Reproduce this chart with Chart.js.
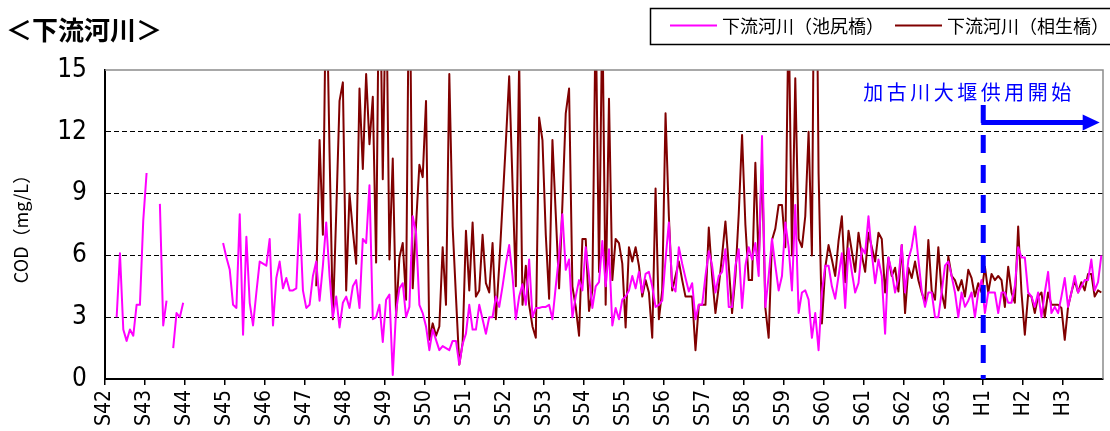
<!DOCTYPE html>
<html>
<head>
<meta charset="utf-8">
<script src="https://cdn.jsdelivr.net/npm/chart.js@4.4.0/dist/chart.umd.min.js"></script>
<style>
  html, body { margin: 0; padding: 0; background: #fff; }
  #wrap { position: relative; width: 1110px; height: 431px; }
</style>
</head>
<body>
<div id="wrap"><canvas id="cod-chart"></canvas></div>
<script>
// one tick label per year, 12 monthly points per year
var yearLabels = ['S42', 'S43', 'S44', 'S45', 'S46', 'S47', 'S48', 'S49', 'S50', 'S51',
  'S52', 'S53', 'S54', 'S55', 'S56', 'S57', 'S58', 'S59', 'S60', 'S61', 'S62', 'S63',
  'H1', 'H2', 'H3'];

// monthly COD (mg/L), null = no measurement
var ikejiri = [
  null, null, null, 3.0, 6.1, 2.4, 1.85, 2.4, 2.1, 3.6, 3.6, 7.7,        // S42
  10.0, null, null, null, 8.5, 2.6, 3.8, null, 1.5, 3.2, 3.0, 3.7,       // S43
  null, null, null, null, null, null, null, null, null, null, null, 6.6, // S44
  5.9, 5.3, 3.6, 3.45, 8.0, 2.15, 6.9, 3.7, 2.6, 4.2, 5.7, 5.6,         // S45
  5.5, 6.8, 2.6, 4.9, 5.7, 4.4, 4.9, 4.3, 4.3, 4.4, 8.0, 4.3,           // S46
  3.45, 3.6, 5.0, 5.7, 3.8, 5.5, 7.6, 5.0, 3.0, 4.0, 2.5, 3.7,          // S47
  4.0, 3.45, 4.5, 4.8, 3.45, 6.8, 6.6, 9.4, 2.9, 3.0, 3.6, 1.8,         // S48
  3.85, 4.1, 0.2, 3.3, 4.4, 4.65, 3.0, 3.5, 7.9, 7.1, 3.6, 3.2,         // S49
  2.55, 1.4, 2.4, 1.9, 1.4, 1.6, 1.5, 1.4, 1.85, 1.85, 0.7, 1.7,        // S50
  2.2, 3.6, 2.4, 2.4, 3.6, 2.9, 2.2, 3.0, 3.0, 4.0, 3.5, 4.5,           // S51
  5.6, 6.5, 5.0, 2.9, 4.0, 4.6, 3.6, 5.8, 3.0, 3.45, 3.45, 3.5,         // S52
  3.5, 3.6, 2.9, 4.5, 6.0, 8.0, 5.3, 5.8, 3.0, 4.0, 4.8, 4.3,           // S53
  6.4, 5.0, 3.45, 4.5, 4.7, 6.7, 4.5, 6.3, 2.6, 3.45, 2.9, 3.85,        // S54
  4.0, 4.3, 5.0, 4.4, 5.2, 4.2, 5.1, 5.2, 4.5, 3.5, 3.6, 3.8,           // S55
  5.8, 7.6, 4.5, 4.25, 6.4, 5.6, 4.9, 4.25, 4.65, 2.9, 3.6, 3.6,        // S56
  5.0, 6.2, 5.5, 4.2, 5.0, 5.2, 6.3, 3.5, 3.5, 5.5, 6.3, 3.45,          // S57
  5.5, 6.4, 5.8, 6.6, 5.0, 11.8, 3.5, 5.0, 6.8, 5.5, 4.3, 5.0,          // S58
  7.6, 6.4, 4.3, 8.45, 3.2, 4.2, 4.3, 3.85, 2.0, 3.2, 1.4, 4.2,         // S59
  5.5, 5.5, 4.5, 3.9, 5.0, 6.1, 3.45, 6.35, 5.2, 4.2, 4.65, 6.35,       // S60
  6.1, 7.9, 6.1, 4.65, 5.8, 5.0, 2.2, 5.9, 5.2, 4.2, 4.9, 6.5,          // S61
  4.2, 5.8, 6.4, 7.4, 5.8, 4.3, 3.5, 4.2, 4.2, 3.0, 3.0, 4.2,           // S62
  5.5, 5.7, 5.0, 4.2, 3.0, 4.2, 3.5, 3.8, 4.2, 3.0, 4.2, 4.8,           // S63
  3.2, 4.2, 4.2, 4.2, 3.2, 4.2, 4.2, 3.7, 3.7, 4.5, 6.4, 5.9,           // H1
  5.9, 4.2, 4.0, 3.5, 4.2, 3.0, 4.2, 5.2, 3.2, 3.5, 3.2, 4.0,           // H2
  4.9, 3.5, 4.2, 5.0, 4.2, 4.5, 4.8, 4.8, 5.8, 4.3, 4.7, 6.0            // H3
];

var aioi = [
  null, null, null, null, null, null, null, null, null, null, null, null, // S42
  null, null, null, null, null, null, null, null, null, null, null, null, // S43
  null, null, null, null, null, null, null, null, null, null, null, null, // S44
  null, null, null, null, null, null, null, null, null, null, null, null, // S45
  null, null, null, null, null, null, null, null, null, null, null, null, // S46
  null, null, null, 4.5, 11.6, 7.0, 20, 11, 2.9, 8.0, 13.5, 14.4,        // S47
  4.3, 9.0, 7.2, 5.6, 14.1, 10.2, 14.8, 11.4, 13.7, 5.65, 22, 9.7,       // S48
  20, 5.8, 10.7, 3.0, 5.9, 6.6, 3.85, 22, 4.4, 7.5, 10.4, 9.8,           // S49
  13.5, 1.9, 2.7, 2.1, 2.55, 6.4, 3.6, 14.8, 7.4, 4.0, 0.7, 1.75,        // S50
  7.2, 4.3, 7.6, 4.0, 4.3, 7.0, 4.65, 4.2, 6.6, 2.9, 5.5, 8.5,           // S51
  11.5, 14.7, 9.5, 4.5, 15.5, 3.6, 5.5, 3.6, 2.55, 2.0, 12.7, 11.6,      // S52
  7.0, 3.9, 11.6, 8.0, 4.4, 8.5, 12.9, 14.1, 4.5, 3.5, 2.1, 6.8,         // S53
  6.8, 3.3, 4.3, 18, 5.2, 18, 3.6, 13.6, 4.8, 6.8, 6.6, 5.6,             // S54
  2.5, 6.4, 5.7, 6.4, 5.5, 4.0, 4.8, 4.2, 2.0, 9.25, 2.9, 4.3,           // S55
  12.9, 7.9, 4.3, 5.0, 5.7, 4.8, 4.0, 4.0, 4.0, 1.4, 3.6, 3.6,           // S56
  3.6, 7.35, 5.0, 3.2, 4.5, 6.0, 7.65, 5.5, 3.2, 5.0, 8.0, 11.85,        // S57
  7.5, 4.8, 4.8, 10.5, 5.65, 10.5, 3.45, 2.0, 6.75, 7.3, 8.45, 8.45,     // S58
  6.4, 18, 6.0, 14.6, 6.8, 6.4, 7.9, 12.0, 6.0, 28, 10, 2.7,             // S59
  5.4, 6.5, 5.8, 5.0, 6.7, 7.9, 4.7, 7.2, 6.2, 5.2, 7.1, 6.0,            // S60
  5.2, 7.1, 6.4, 5.7, 7.1, 6.8, 4.2, 5.9, 5.0, 5.4, 4.25, 6.5,           // S61
  3.2, 5.4, 4.9, 5.7, 4.8, 4.2, 3.7, 6.75, 4.3, 3.85, 6.4, 4.2,          // S62
  3.45, 5.95, 5.0, 4.8, 4.3, 4.8, 4.0, 5.3, 4.9, 4.0, 4.65, 4.2,         // S63
  5.45, 4.2, 5.1, 4.8, 5.0, 4.8, 3.5, 5.45, 4.2, 3.7, 7.4, 4.2,          // H1
  2.15, 4.1, 4.0, 3.2, 4.0, 4.2, 3.0, 4.2, 3.6, 3.6, 3.6, 3.45,          // H2
  1.9, 3.5, 4.2, 4.8, 4.2, 4.7, 4.3, 5.1, 5.1, 4.0, 4.3, 4.2             // H3
];

var seriesNames = ['下流河川（池尻橋）', '下流河川（相生橋）'];
var seriesColors = ['#ff00ff', '#800000'];
var chartTitle = '＜下流河川＞';
var yTitle = 'COD（mg/L）';
var damLabel = '加古川大堰供用開始';
var damStartMonth = 264; // start of H1

var narrow = "'Liberation Sans Narrow', 'DejaVu Sans Condensed', 'Liberation Sans', sans-serif";
var cjk = "'Noto Sans CJK JP', 'Noto Sans', sans-serif";

function toPoints(values) {
  return values.map(function (v, i) { return { x: i + 0.5, y: v }; });
}

var decorations = {
  id: 'decorations',
  afterDatasetsDraw: function (chart) {
    var ctx = chart.ctx, area = chart.chartArea;
    var xs = chart.scales.x, ys = chart.scales.y;
    ctx.save();
    // grey top / right frame
    ctx.strokeStyle = '#8c8c8c';
    ctx.lineWidth = 1.5;
    ctx.beginPath();
    ctx.moveTo(area.left, area.top);
    ctx.lineTo(area.right, area.top);
    ctx.lineTo(area.right, area.bottom);
    ctx.stroke();

    // dam operation start
    var x0 = xs.getPixelForValue(damStartMonth);
    ctx.strokeStyle = '#0000ff';
    ctx.lineWidth = 5;
    ctx.setLineDash([18, 12]);
    ctx.beginPath();
    ctx.moveTo(x0, ys.getPixelForValue(13.3));
    ctx.lineTo(x0, area.bottom);
    ctx.stroke();
    ctx.setLineDash([]);

    var ya = ys.getPixelForValue(12.45);
    var xe = xs.getPixelForValue(299);
    ctx.beginPath();
    ctx.moveTo(x0 - 2, ya);
    ctx.lineTo(xe - 14, ya);
    ctx.stroke();
    ctx.fillStyle = '#0000ff';
    ctx.beginPath();
    ctx.moveTo(xe, ya);
    ctx.lineTo(xe - 17, ya - 8);
    ctx.lineTo(xe - 17, ya + 8);
    ctx.closePath();
    ctx.fill();

    ctx.font = '20px ' + cjk;
    ctx.letterSpacing = '3.5px';
    ctx.textBaseline = 'middle';
    ctx.textAlign = 'left';
    ctx.fillText(damLabel, x0 - 120, 92);
    ctx.restore();
  },
  afterDraw: function (chart) {
    var ctx = chart.ctx;
    ctx.save();
    ctx.fillStyle = '#000';
    ctx.textBaseline = 'middle';
    ctx.font = 'bold 26px ' + cjk;
    ctx.fillText(chartTitle, 6, 30);

    // legend box
    ctx.strokeStyle = '#000';
    ctx.lineWidth = 1.5;
    ctx.strokeRect(650.5, 8.5, 470, 36);
    ctx.font = '18px ' + cjk;
    var entries = [[670, 722], [895, 947]];
    for (var i = 0; i < 2; i++) {
      ctx.strokeStyle = seriesColors[i];
      ctx.lineWidth = 2;
      ctx.beginPath();
      ctx.moveTo(entries[i][0], 25.5);
      ctx.lineTo(entries[i][0] + 47, 25.5);
      ctx.stroke();
      ctx.fillText(seriesNames[i], entries[i][1], 26);
    }
    ctx.restore();
  }
};

var ctxCod = document.getElementById('cod-chart').getContext('2d');

var codChart = new Chart(ctxCod, {
  type: 'line',
  data: {
    datasets: [
      { label: seriesNames[0], data: toPoints(ikejiri), borderColor: seriesColors[0], borderWidth: 2 },
      { label: seriesNames[1], data: toPoints(aioi), borderColor: seriesColors[1], borderWidth: 2 }
    ]
  },
  options: {
    responsive: true,
    maintainAspectRatio: false,
    animation: false,
    spanGaps: false,
    elements: { point: { radius: 0, hoverRadius: 0 }, line: { tension: 0, borderJoinStyle: 'round' } },
    layout: { padding: { left: 10, top: 70, right: 7, bottom: 0 } },
    plugins: { legend: { display: false }, tooltip: { enabled: false } },
    scales: {
      x: {
        type: 'linear',
        min: 0,
        max: 300,
        afterBuildTicks: function (scale) {
          scale.ticks = scale.ticks.filter(function (t) { return t.value < 300; });
        },
        afterFit: function (scale) { scale.height = 52; },
        ticks: {
          stepSize: 12,
          autoSkip: false,
          maxRotation: 90,
          minRotation: 90,
          padding: 5,
          color: '#000',
          font: { family: narrow, size: 21 },
          callback: function (v) { return yearLabels[Math.round(v / 12)] || ''; }
        },
        grid: { drawOnChartArea: false, drawTicks: true, tickLength: 6, color: '#000', lineWidth: 1.5 },
        border: { color: '#000', width: 2 }
      },
      y: {
        min: 0,
        max: 15,
        afterFit: function (scale) { scale.width = 95; },
        ticks: {
          stepSize: 3,
          padding: 18,
          color: '#000',
          font: { family: narrow, size: 26 }
        },
        title: { display: true, text: yTitle, color: '#000', font: { family: cjk, size: 18 }, padding: { top: 0, bottom: 0 } },
        grid: {
          drawTicks: false,
          lineWidth: 1,
          color: function (c) {
            return (c.tick && (c.tick.value === 0 || c.tick.value === 15)) ? 'rgba(0,0,0,0)' : '#000';
          }
        },
        border: { color: '#000', width: 2, dash: [5, 3] }
      }
    }
  },
  plugins: [decorations]
});
</script>
</body>
</html>
